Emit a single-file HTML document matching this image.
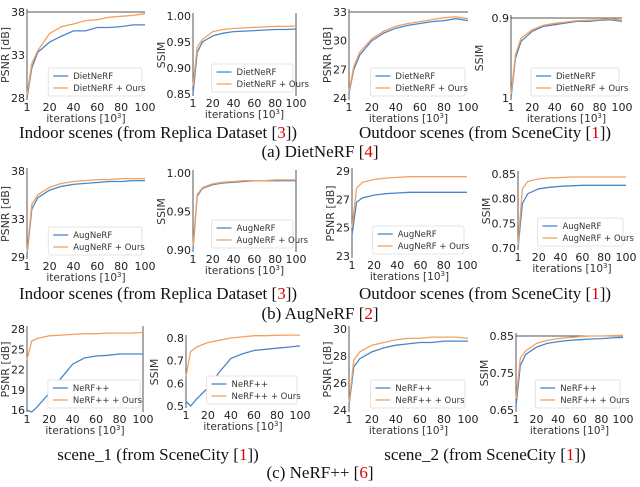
<!DOCTYPE html>
<html><head><meta charset="utf-8"><style>
body{margin:0;background:#fff;width:640px;height:482px;overflow:hidden}
svg text{font-family:"DejaVu Sans","Liberation Sans",sans-serif}
.cap{font-family:"Liberation Serif",serif;font-size:17px;fill:#111}
</style></head><body>
<svg id="fig" width="640" height="482" viewBox="0 0 640 482">
<g id="charts"></g>
<text class="cap" x="158" y="138" text-anchor="middle">Indoor scenes (from Replica Dataset [<tspan fill="#d00">3</tspan>])</text>
<text class="cap" x="485" y="138" text-anchor="middle">Outdoor scenes (from SceneCity [<tspan fill="#d00">1</tspan>])</text>
<text class="cap" x="320" y="157" text-anchor="middle">(a) DietNeRF [<tspan fill="#d00">4</tspan>]</text>
<text class="cap" x="158" y="299" text-anchor="middle">Indoor scenes (from Replica Dataset [<tspan fill="#d00">3</tspan>])</text>
<text class="cap" x="485" y="299" text-anchor="middle">Outdoor scenes (from SceneCity [<tspan fill="#d00">1</tspan>])</text>
<text class="cap" x="320" y="319" text-anchor="middle">(b) AugNeRF [<tspan fill="#d00">2</tspan>]</text>
<text class="cap" x="158" y="460" text-anchor="middle">scene_1 (from SceneCity [<tspan fill="#d00">1</tspan>])</text>
<text class="cap" x="485" y="460" text-anchor="middle">scene_2 (from SceneCity [<tspan fill="#d00">1</tspan>])</text>
<text class="cap" x="320" y="478" text-anchor="middle">(c) NeRF++ [<tspan fill="#d00">6</tspan>]</text>
</svg>
<script>
const iters=[1,5,10,20,30,40,50,60,70,80,90,100];
const xTicks=[1,20,40,60,80,100];
const aBase=[28,31.5,33.3,34.5,35.2,35.8,35.8,36.2,36.2,36.3,36.5,36.5];
const aOurs=[28.3,32,33.5,35.5,36.3,36.6,37,37.1,37.4,37.5,37.6,37.8];
const bBase=[.85,.93,.95,.962,.967,.97,.971,.972,.973,.974,.974,.975];
const bOurs=[.865,.94,.955,.97,.974,.976,.977,.978,.979,.98,.98,.981];
const cBase=[24.5,27,28.5,30,30.8,31.3,31.6,31.8,32,32.1,32.3,32.1];
const cOurs=[24.7,27.3,28.8,30.2,31,31.5,31.8,32,32.2,32.4,32.5,32.3];
const dBase=[.66,.78,.83,.86,.875,.88,.885,.89,.89,.893,.895,.89];
const dOurs=[.67,.79,.84,.865,.878,.884,.888,.892,.893,.895,.898,.893];
const eBase=[29.2,34,35.2,36,36.4,36.6,36.7,36.8,36.9,36.9,37,37];
const eOurs=[29.5,34.5,35.5,36.3,36.7,36.9,37,37.1,37.1,37.2,37.2,37.2];
const fBase=[.9,.97,.98,.985,.987,.988,.989,.99,.99,.99,.99,.99];
const fOurs=[.905,.972,.981,.986,.988,.989,.99,.99,.99,.991,.991,.991];
const gBase=[24.5,26.8,27.1,27.3,27.4,27.45,27.5,27.5,27.5,27.5,27.5,27.5];
const gOurs=[25,27.8,28.2,28.4,28.5,28.55,28.6,28.6,28.6,28.6,28.6,28.6];
const hBase=[.7,.79,.81,.82,.823,.825,.826,.827,.827,.827,.827,.827];
const hOurs=[.705,.82,.835,.84,.842,.843,.844,.844,.844,.844,.844,.844];
const iBase=[16,15.7,16.5,18.5,20.7,22.8,23.7,24,24.1,24.3,24.3,24.3];
const iOurs=[23.5,26.2,26.6,27,27.1,27.2,27.3,27.3,27.4,27.4,27.4,27.5];
const jBase=[.52,.5,.53,.58,.65,.71,.73,.745,.75,.755,.76,.765];
const jOurs=[.63,.74,.76,.78,.79,.8,.805,.81,.81,.812,.813,.813];
const kBase=[24.3,27.2,27.8,28.3,28.6,28.8,28.9,29,29,29.1,29.1,29.1];
const kOurs=[24.5,27.7,28.3,28.8,29,29.2,29.3,29.3,29.4,29.4,29.4,29.3];
const lBase=[.66,.77,.8,.82,.83,.835,.838,.84,.842,.843,.845,.846];
const lOurs=[.68,.79,.81,.83,.838,.843,.846,.848,.85,.85,.851,.852];
const ticksA=[28,33,38],ticksB=[0.85,0.90,0.95,1.00],ticksC=[24,27,30,33],ticksD=[0.9];
const ticksE=[29,33,38],ticksF=[0.90,0.95,1.00],ticksG=[23,25,27,29],ticksH=[0.70,0.75,0.80,0.85];
const ticksI=[16,19,22,25,28],ticksJ=[0.5,0.6,0.7,0.8],ticksK=[24,26,28,30],ticksL=[0.65,0.75,0.85];
const charts=[
 {n:'a-psnr',x0:27,x1:145,yT:12,yB:98,vT:38,vB:28,t:ticksA,d:0,yl:'PSNR [dB]',base:aBase,ours:aOurs,lab:'DietNeRF',top:1},
 {n:'a-ssim',x0:193,x1:296,yT:16,yB:94,vT:1.0,vB:0.85,t:ticksB,d:2,yl:'SSIM',base:bBase,ours:bOurs,lab:'DietNeRF',right:1},
 {n:'a-out-psnr',x0:349,x1:468,yT:12,yB:98,vT:33,vB:24,t:ticksC,d:0,yl:'PSNR [dB]',base:cBase,ours:cOurs,lab:'DietNeRF',top:1},
 {n:'a-out-ssim',x0:511,x1:622,yT:18,yB:98,vT:0.9,vB:0.66,t:ticksD,d:1,yl:'SSIM',base:dBase,ours:dOurs,lab:'DietNeRF',top:1,one:1},
 {n:'b-psnr',x0:27,x1:145,yT:171,yB:257,vT:38,vB:29,t:ticksE,d:0,yl:'PSNR [dB]',base:eBase,ours:eOurs,lab:'AugNeRF'},
 {n:'b-ssim',x0:193,x1:296,yT:173,yB:250,vT:1.0,vB:0.9,t:ticksF,d:2,yl:'SSIM',base:fBase,ours:fOurs,lab:'AugNeRF',right:1},
 {n:'b-out-psnr',x0:352,x1:467,yT:171,yB:256,vT:29,vB:23,t:ticksG,d:0,yl:'PSNR [dB]',base:gBase,ours:gOurs,lab:'AugNeRF'},
 {n:'b-out-ssim',x0:518,x1:626,yT:174,yB:248,vT:0.85,vB:0.70,t:ticksH,d:2,yl:'SSIM',base:hBase,ours:hOurs,lab:'AugNeRF'},
 {n:'c-psnr',x0:27,x1:143,yT:329,yB:410,vT:28,vB:16,t:ticksI,d:0,yl:'PSNR [dB]',base:iBase,ours:iOurs,lab:'NeRF++',right:1},
 {n:'c-ssim',x0:186,x1:300,yT:338,yB:406,vT:0.8,vB:0.5,t:ticksJ,d:1,yl:'SSIM',base:jBase,ours:jOurs,lab:'NeRF++'},
 {n:'c2-psnr',x0:349,x1:468,yT:329,yB:410,vT:30,vB:24,t:ticksK,d:0,yl:'PSNR [dB]',base:kBase,ours:kOurs,lab:'NeRF++'},
 {n:'c2-ssim',x0:516,x1:623,yT:336,yB:410,vT:0.85,vB:0.65,t:ticksL,d:2,yl:'SSIM',base:lBase,ours:lOurs,lab:'NeRF++',top:1}
];
const NS='http://www.w3.org/2000/svg';
const root=document.getElementById('charts');
function mk(tag,attrs,parent,txt){const e=document.createElementNS(NS,tag);for(const k in attrs)e.setAttribute(k,attrs[k]);if(txt!==undefined)e.textContent=txt;parent.appendChild(e);return e;}
charts.forEach(c=>{
 const g=mk('g',{},root);
 
 
 const sx=v=>c.x0+(v-1)/99*(c.x1-c.x0);
 const sy=v=>c.yB+(v-c.vB)/(c.vT-c.vB)*(c.yT-c.yB);
 const bot=c.yB+2;
 const axL=mk('line',{x1:c.x0,y1:c.yT-3,x2:c.x0,y2:bot,stroke:'#555','stroke-width':1},g);
 
 if(c.top){const l=mk('line',{x1:c.x0,y1:c.yT,x2:c.x1,y2:c.yT,stroke:'#555','stroke-width':1},g);}
 if(c.right){const l=mk('line',{x1:c.x1,y1:c.yT-3,x2:c.x1,y2:bot,stroke:'#555','stroke-width':1},g);}
 c.t.forEach(v=>{const t=mk('text',{x:c.x0-2,y:sy(v)+4,'font-size':11,'text-anchor':'end',fill:'#222'},g,v.toFixed(c.d));});
 if(c.one){const t=mk('text',{x:c.x0-2,y:bot+2,'font-size':11,'text-anchor':'end',fill:'#222'},g,'1');}
 xTicks.forEach(v=>{const t=mk('text',{x:sx(v),y:bot+11,'font-size':11,'text-anchor':'middle',fill:'#222'},g,String(v));});
 const xl=mk('text',{x:(c.x0+c.x1)/2,y:bot+22,'font-size':10.5,'text-anchor':'middle',fill:'#333'},g,'iterations [10');
 mk('tspan',{'font-size':7,dy:-4},xl,'3');mk('tspan',{dy:4},xl,']');
 
 const cy=(c.yT+c.yB)/2;
 const yx=c.yl==='SSIM'?c.x0-28:c.x0-18;
 const yl=mk('text',{x:yx,y:cy,'font-size':11,'text-anchor':'middle',fill:'#333',transform:`rotate(-90 ${yx} ${cy})`},g,c.yl);
 
 [['base','#4a86c8'],['ours','#f4a060']].forEach(([k,col])=>{
  const p=mk('polyline',{points:c[k].map((v,i)=>sx(iters[i]).toFixed(1)+','+sy(v).toFixed(1)).join(' '),fill:'none',stroke:col,'stroke-width':1.3},g);
  
 });
 const lx=c.x0+(c.x1-c.x0)*0.18, ly=c.yB-30;
 const lg=mk('g',{},g);
 
 
 mk('rect',{x:lx,y:ly,width:c.x1-lx-3,height:28,fill:'#fff',stroke:'#ddd','stroke-width':0.8,rx:2},lg);
 mk('line',{x1:lx+5,y1:ly+8,x2:lx+20,y2:ly+8,stroke:'#4a86c8','stroke-width':1.3},lg);
 mk('line',{x1:lx+5,y1:ly+20,x2:lx+20,y2:ly+20,stroke:'#f4a060','stroke-width':1.3},lg);
 mk('text',{x:lx+25,y:ly+11,'font-size':8.5,fill:'#333'},lg,c.lab);
 mk('text',{x:lx+25,y:ly+23,'font-size':8.5,fill:'#333'},lg,c.lab+' + Ours');
});
</script>
</body></html>
